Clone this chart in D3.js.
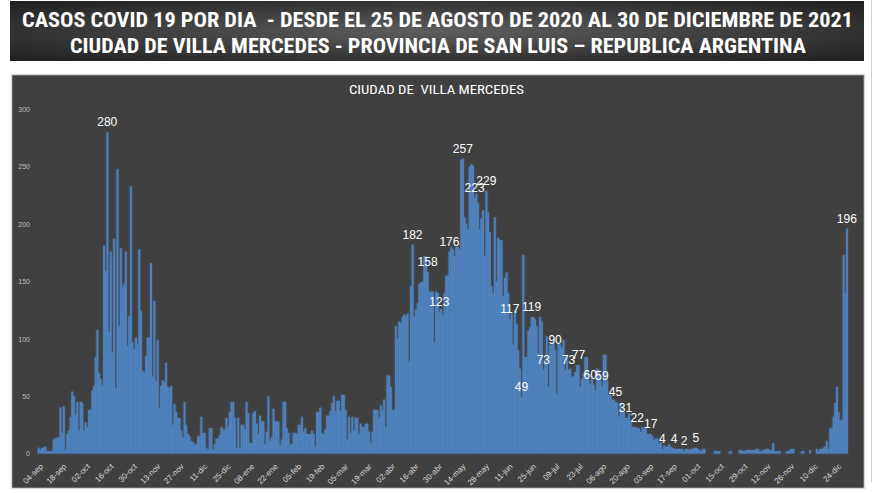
<!DOCTYPE html>
<html><head><meta charset="utf-8">
<script src="https://cdn.jsdelivr.net/npm/d3@7"></script>
<style>body{margin:0;background:#fff;} svg{display:block;} text{white-space:pre;}</style>
</head><body><svg id="c" width="876" height="493"></svg>
<script>
const titleLines = [
  "CASOS COVID 19 POR DIA  - DESDE EL 25 DE AGOSTO DE 2020 AL 30 DE DICIEMBRE DE 2021",
  "CIUDAD DE VILLA MERCEDES - PROVINCIA DE SAN LUIS \u2013 REPUBLICA ARGENTINA"
];
const chartTitle = "CIUDAD DE  VILLA MERCEDES";
const startDate = "2020-09-04";
const monthNames = ["ene","feb","mar","abr","may","jun","jul","ago","sep","oct","nov","dic"];
const cases = [
5,3,5,5,6,2,2,2,2,12,
13,14,14,40,18,41,3,17,20,32,
54,50,34,45,20,45,44,20,27,23,
38,38,55,59,84,108,70,65,59,181,
159,280,106,176,88,187,57,248,111,179,
145,148,176,94,120,233,97,91,101,95,
178,124,72,71,85,101,101,166,67,133,
63,99,40,59,64,62,79,58,57,59,
25,43,36,31,31,20,14,45,25,17,
15,11,10,8,8,15,15,32,18,18,
5,3,22,22,3,8,13,13,16,23,
21,21,31,23,36,45,45,31,5,31,
5,25,25,21,45,35,9,9,35,37,
26,17,33,28,28,8,19,50,11,14,
39,28,28,28,7,12,45,45,22,18,
8,8,18,18,17,25,25,32,19,22,
17,17,17,20,17,6,36,36,40,18,
17,21,33,33,37,44,50,37,46,46,
37,51,51,38,12,32,18,32,20,31,
31,17,26,23,23,26,26,19,9,19,
38,38,38,31,42,38,47,23,68,68,
58,38,38,111,100,115,114,119,121,120,
122,80,146,182,119,125,131,148,149,150,
172,172,158,141,141,141,97,141,140,123,
126,121,140,155,155,176,180,178,172,180,
180,178,256,257,206,200,195,250,252,251,
223,226,218,195,205,212,172,229,210,193,
146,140,206,150,188,186,186,137,153,158,
140,117,122,95,125,113,90,74,49,173,
84,84,107,110,119,119,117,111,87,119,
115,73,82,102,58,95,95,97,90,52,
97,95,92,99,73,86,73,74,67,67,
71,77,77,58,65,70,84,84,64,60,
67,60,55,74,73,64,59,86,86,64,
51,51,47,47,45,44,32,44,38,36,
31,31,35,28,23,23,23,22,22,19,
23,22,22,17,17,17,15,12,13,13,
9,10,4,7,6,6,8,6,5,4,
4,4,4,4,4,2,4,4,3,4,
4,5,5,4,3,2,4,4,0,0,
0,0,0,2,2,2,2,0,0,0,
0,0,2,2,0,0,0,0,3,3,
2,2,3,3,3,3,3,3,4,4,
2,2,3,3,4,4,3,3,9,2,
2,2,2,0,0,0,2,2,3,4,
4,0,0,0,0,2,2,0,0,0,
3,0,0,0,4,2,4,4,5,6,
11,4,22,22,32,44,58,36,29,29,
173,140,196
];
const labeledDays = ["2020-10-15","2021-04-15","2021-04-24","2021-05-01","2021-05-07","2021-05-15",
  "2021-05-22","2021-05-29","2021-06-12","2021-06-19","2021-06-25","2021-07-02","2021-07-09",
  "2021-07-17","2021-07-23","2021-07-30","2021-08-06","2021-08-14","2021-08-20","2021-08-27",
  "2021-09-04","2021-09-11","2021-09-18","2021-09-24","2021-10-01","2021-12-30"];
const yTicks = [0,50,100,150,200,250,300];
const tickEvery = 14;

const svg = d3.select("#c");
const defs = svg.append("defs");
const rg = defs.append("radialGradient").attr("id","bannerGrad").attr("cx","50%").attr("cy","50%").attr("r","70%");
rg.append("stop").attr("offset","0%").attr("stop-color","#5e5e5e");
rg.append("stop").attr("offset","100%").attr("stop-color","#1f1f1f");
const f = defs.append("filter").attr("id","glow").attr("x","-50%").attr("y","-10%").attr("width","200%").attr("height","120%");
f.append("feGaussianBlur").attr("in","SourceAlpha").attr("stdDeviation",1.3).attr("result","b");
f.append("feFlood").attr("flood-color","#4f81bd").attr("flood-opacity",0.5);
f.append("feComposite").attr("in2","b").attr("operator","in").attr("result","g");
const fm = f.append("feMerge");
fm.append("feMergeNode").attr("in","g");
fm.append("feMergeNode").attr("in","SourceGraphic");

// banner
svg.append("rect").attr("x",10).attr("y",1).attr("width",854).attr("height",60).attr("fill","url(#bannerGrad)");
const titleFont = "'Liberation Sans Narrow','Roboto Condensed','Liberation Sans',sans-serif";
svg.append("text").attr("x",22).attr("y",27).attr("font-family",titleFont).attr("font-weight","bold")
  .attr("font-size",20).attr("fill","#fff").attr("textLength",831).attr("lengthAdjust","spacingAndGlyphs").text(titleLines[0]);
svg.append("text").attr("x",70).attr("y",53).attr("font-family",titleFont).attr("font-weight","bold")
  .attr("font-size",20).attr("fill","#fff").attr("textLength",736).attr("lengthAdjust","spacingAndGlyphs").text(titleLines[1]);

// right thin line
svg.append("line").attr("x1",871.5).attr("x2",871.5).attr("y1",0).attr("y2",482).attr("stroke","#d0d0d0").attr("stroke-width",1);

// panel
svg.append("rect").attr("x",11.5).attr("y",74.5).attr("width",853).attr("height",414).attr("fill","#404040").attr("stroke","#d9d9d9").attr("stroke-width",1.5);
svg.append("text").attr("x",349).attr("y",93.5).attr("font-family",titleFont).attr("font-weight","normal")
  .attr("font-size",12.5).attr("fill","#fff").attr("textLength",175).attr("lengthAdjust","spacingAndGlyphs").text(chartTitle);

const parse = d3.utcParse("%Y-%m-%d");
const start = parse(startDate);
const dates = cases.map((_, i) => d3.utcDay.offset(start, i));
const x = d3.scaleBand().domain(d3.range(cases.length)).range([37.7, 847.7]).padding(0);
const y = d3.scaleLinear().domain([0, 300]).range([453.5, 109.3]);

// y axis labels
const yAxis = d3.axisLeft(y).tickValues(yTicks).tickSize(0).tickPadding(0);
const ya = svg.append("g").attr("transform","translate(30,0)").call(yAxis);
ya.select(".domain").remove();
ya.selectAll("text").attr("font-family","'Liberation Sans',sans-serif").attr("font-size",7).attr("fill","#bfbfbf");

// bars
const bw = x.bandwidth();
svg.append("g").attr("filter","url(#glow)").selectAll("rect").data(cases).join("rect")
  .attr("x",(d,i)=>x(i)).attr("width",bw+0.25)
  .attr("y",d=>y(d)).attr("height",d=>y(0)-y(d))
  .attr("fill","#4f81bd");

// x axis
const fmt = d => d3.utcFormat("%d")(d) + "-" + monthNames[d.getUTCMonth()];
const tickIdx = d3.range(0, cases.length, tickEvery);
const xAxis = d3.axisBottom(x).tickValues(tickIdx).tickFormat(i => fmt(dates[i])).tickSize(0).tickPadding(0);
const xa = svg.append("g").attr("transform","translate(0,456)").call(xAxis);
xa.select(".domain").remove();
xa.selectAll("text").attr("font-family","'Liberation Sans',sans-serif").attr("font-size",8).attr("fill","#d9d9d9")
  .attr("text-anchor","end").attr("y",0).attr("x",0).attr("dy","0.35em").attr("transform","translate(3,9) rotate(-45)");

// data labels
const labelIdx = labeledDays.map(s => Math.round((parse(s) - start) / 864e5));
svg.append("g").selectAll("text").data(labelIdx).join("text")
  .attr("x", i => x(i) + bw/2).attr("y", i => y(cases[i]) - 6)
  .attr("text-anchor","middle").attr("font-family","'Liberation Sans',sans-serif").attr("font-size",12)
  .attr("fill","#fff").text(i => cases[i]);
</script></body></html>
